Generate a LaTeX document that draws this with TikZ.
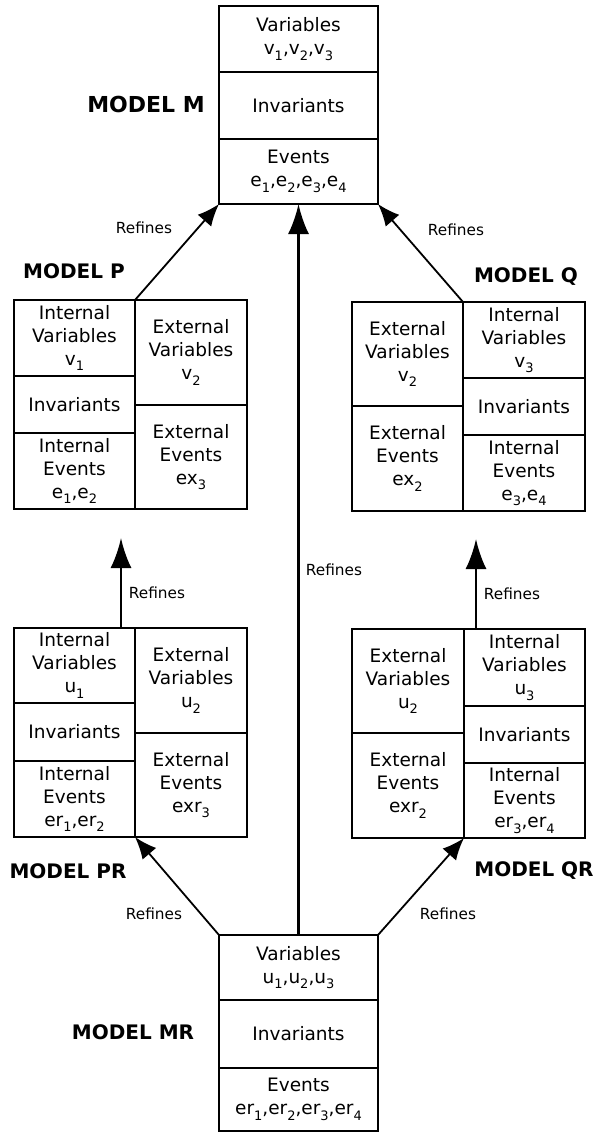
\documentclass[tikz,border=0pt]{standalone}
\usepackage{fontspec}
\setmainfont{DejaVu Sans}
\usetikzlibrary{arrows.meta}
\newcommand\subidx[1]{\raisebox{-0.3em}{\fontsize{13}{13}\selectfont #1}}

\begin{document}
\begin{tikzpicture}[x=1pt,y=-1pt,
  cell/.style 2 args={draw, line width=1.8pt, anchor=north west, inner sep=0pt,
    outer sep=0pt, align=center, minimum width=#1, minimum height=#2,
    font=\fontsize{18.5}{23}\selectfont},
  title/.style={font=\fontsize{20}{22}\selectfont\bfseries},
  lbl/.style={font=\fontsize{15.3}{16}\selectfont},
  refarrow/.style={line width=1.8pt, -{Latex[length=22pt,width=18pt]}},
  bigarrow/.style={line width=2.6pt, -{Latex[length=30pt,width=21pt]}}]
\useasboundingbox (0,0) rectangle (597,1133);

% Model M
\node[cell={159pt}{66pt}] (m1) at (219,6) {Variables\\v\subidx{1},v\subidx{2},v\subidx{3}};
\node[cell={159pt}{67pt}] (m2) at (219,72) {Invariants};
\node[cell={159pt}{65pt}] (m3) at (219,139) {Events\\e\subidx{1},e\subidx{2},e\subidx{3},e\subidx{4}};
\node[title, font=\fontsize{22}{24}\selectfont\bfseries] (tm) at (146,104) {MODEL M};

% Model P
\node[cell={121pt}{76pt}] (p1) at (14,300) {Internal\\Variables\\v\subidx{1}};
\node[cell={121pt}{57pt}] (p2) at (14,376) {Invariants};
\node[cell={121pt}{76pt}] (p3) at (14,433) {Internal\\Events\\e\subidx{1},e\subidx{2}};
\node[cell={112pt}{105pt}] (p4) at (135,300) {External\\Variables\\v\subidx{2}};
\node[cell={112pt}{104pt}] (p5) at (135,405) {External\\Events\\ex\subidx{3}};
\node[title] (tp) at (74,271) {MODEL P};

% Model Q
\node[cell={111pt}{104pt}] (q1) at (352,302) {External\\Variables\\v\subidx{2}};
\node[cell={111pt}{105pt}] (q2) at (352,406) {External\\Events\\ex\subidx{2}};
\node[cell={122pt}{76pt}] (q3) at (463,302) {Internal\\Variables\\v\subidx{3}};
\node[cell={122pt}{57pt}] (q4) at (463,378) {Invariants};
\node[cell={122pt}{76pt}] (q5) at (463,435) {Internal\\Events\\e\subidx{3},e\subidx{4}};
\node[title] (tq) at (526,277) {MODEL Q};

% Model PR
\node[cell={121pt}{75pt}] (pr1) at (14,628) {Internal\\Variables\\u\subidx{1}};
\node[cell={121pt}{58pt}] (pr2) at (14,703) {Invariants};
\node[cell={121pt}{76pt}] (pr3) at (14,761) {Internal\\Events\\er\subidx{1},er\subidx{2}};
\node[cell={112pt}{105pt}] (pr4) at (135,628) {External\\Variables\\u\subidx{2}};
\node[cell={112pt}{104pt}] (pr5) at (135,733) {External\\Events\\exr\subidx{3}};
\node[title] (tpr) at (68,871) {MODEL PR};

% Model QR
\node[cell={112pt}{104pt}] (qr1) at (352,629) {External\\Variables\\u\subidx{2}};
\node[cell={112pt}{105pt}] (qr2) at (352,733) {External\\Events\\exr\subidx{2}};
\node[cell={121pt}{77pt}] (qr3) at (464,629) {Internal\\Variables\\u\subidx{3}};
\node[cell={121pt}{57pt}] (qr4) at (464,706) {Invariants};
\node[cell={121pt}{75pt}] (qr5) at (464,763) {Internal\\Events\\er\subidx{3},er\subidx{4}};
\node[title] (tqr) at (534,871) {MODEL QR};

% Model MR
\node[cell={159pt}{65pt}] (mr1) at (219,935) {Variables\\u\subidx{1},u\subidx{2},u\subidx{3}};
\node[cell={159pt}{68pt}] (mr2) at (219,1000) {Invariants};
\node[cell={159pt}{63pt}] (mr3) at (219,1068) {Events\\er\subidx{1},er\subidx{2},er\subidx{3},er\subidx{4}};
\node[title] (tmr) at (133,1032) {MODEL MR};

% free ends of the two short vertical arrows
\coordinate (ptip) at (121,538);
\coordinate (qtip) at (476,539);

% refinement arrows
\draw[bigarrow] (mr1.north) -- (m3.south);
\draw[refarrow] (p1.north east) -- (m3.south west);
\draw[refarrow] (q1.north east) -- (m3.south east);
\draw[bigarrow] (ptip |- pr1.north) -- (ptip);
\draw[bigarrow] (qtip |- qr3.north) -- (qtip);
\draw[refarrow] (mr1.north west) -- (pr3.south east);
\draw[refarrow] (mr1.north east) -- (qr2.south east);

% arrow labels
\node[lbl] (l1) at (144,228) {Refines};
\node[lbl] (l2) at (456,230) {Refines};
\node[lbl] (l3) at (334,570) {Refines};
\node[lbl] (l4) at (157,593) {Refines};
\node[lbl] (l5) at (512,594) {Refines};
\node[lbl] (l6) at (154,914) {Refines};
\node[lbl] (l7) at (448,914) {Refines};
\end{tikzpicture}
\end{document}
